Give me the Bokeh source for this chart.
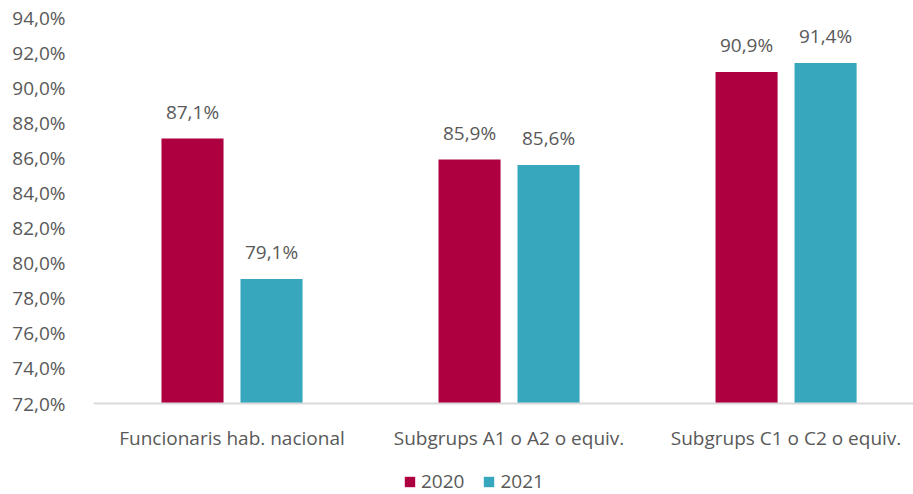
from bokeh.plotting import figure
from bokeh.models import (Range1d, FixedTicker, ColumnDataSource, Legend, LegendItem,
                          LabelSet, Span)
from bokeh.core.properties import value
from bokeh.embed import file_html
from bokeh.resources import INLINE

categories = ["Funcionaris hab. nacional", "Subgrups A1 o A2 o equiv.", "Subgrups C1 o C2 o equiv."]
series_names = ["2020", "2021"]
values_2020 = [87.1, 85.9, 90.9]
values_2021 = [79.1, 85.6, 91.4]
y_ticks = [72, 74, 76, 78, 80, 82, 84, 86, 88, 90, 92, 94]

FONT = "Open Sans"
TXT = "#595959"
C2020 = "#AE0040"
C2021 = "#36A7BD"
FS = "19px"

def pct(v):
    return f"{v:.1f}%".replace(".", ",")

x_centers = [i + 0.5 for i in range(len(categories))]
offset = 0.1426
bar_w = 0.224

Y_BASE = y_ticks[0]
Y_TOP = y_ticks[-1]
# frame spans the full height (17..494 px); the value axis 72..94 occupies 17..403 px
Y_LOW = Y_TOP - (Y_TOP - Y_BASE) * 477 / 386

src20 = ColumnDataSource(dict(x=[c - offset for c in x_centers], top=values_2020,
                              lbl=[pct(v) for v in values_2020]))
src21 = ColumnDataSource(dict(x=[c + offset for c in x_centers], top=values_2021,
                              lbl=[pct(v) for v in values_2021]))
src_cat = ColumnDataSource(dict(x=x_centers, y=[Y_BASE] * len(categories), txt=categories))

p = figure(width=913, height=494, output_backend="svg", toolbar_location=None,
           x_range=Range1d(0, 2.96), y_range=Range1d(Y_LOW, Y_TOP),
           x_axis_location=None,
           min_border_left=93, min_border_right=0, min_border_top=17, min_border_bottom=0)
p.outline_line_color = None
p.grid.grid_line_color = None
p.background_fill_color = "white"
p.border_fill_color = "white"

r20 = p.vbar(x="x", top="top", bottom=Y_BASE, width=bar_w, source=src20,
             fill_color=C2020, line_color=None)
r21 = p.vbar(x="x", top="top", bottom=Y_BASE, width=bar_w, source=src21,
             fill_color=C2021, line_color=None)

# category baseline
p.add_layout(Span(location=Y_BASE, dimension="width", line_color="#D9D9D9", line_width=2))

for s in (src20, src21):
    p.add_layout(LabelSet(x="x", y="top", text="lbl", source=s, text_align="center",
                          text_baseline="bottom", y_offset=14, text_font=value(FONT),
                          text_font_size=FS, text_color=TXT))

# category labels
p.add_layout(LabelSet(x="x", y="y", text="txt", source=src_cat, text_align="center",
                      text_baseline="middle", y_offset=-34, text_font=value(FONT),
                      text_font_size=FS, text_color=TXT))

# y axis
ya = p.yaxis[0]
ya.ticker = FixedTicker(ticks=y_ticks)
ya.major_label_overrides = {t: pct(t) for t in y_ticks}
ya.axis_line_color = None
ya.major_tick_line_color = None
ya.minor_tick_line_color = None
ya.major_label_text_font = FONT
ya.major_label_text_font_size = FS
ya.major_label_text_color = TXT
ya.major_label_standoff = 22

legend = Legend(items=[LegendItem(label=series_names[0], renderers=[r20]),
                       LegendItem(label=series_names[1], renderers=[r21])],
                orientation="horizontal", location=(310, 0),
                label_text_font=FONT, label_text_font_size=FS, label_text_color=TXT,
                glyph_width=13, glyph_height=13, label_standoff=5, spacing=18,
                label_height=20,
                padding=0, margin=0, border_line_color=None, background_fill_alpha=0)
p.add_layout(legend)

open("out.html", "w").write(file_html(p, INLINE))
